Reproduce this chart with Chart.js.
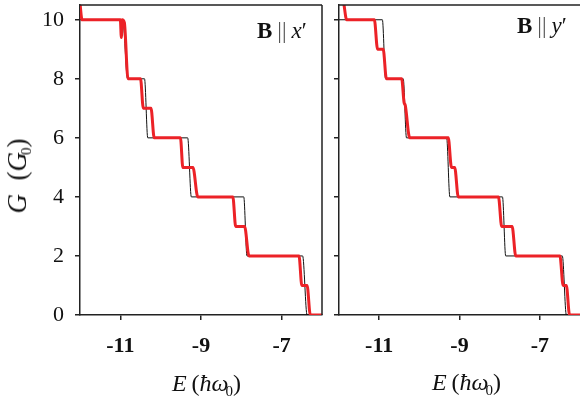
<!DOCTYPE html>
<html>
<head>
<meta charset="utf-8">
<script src="https://cdn.jsdelivr.net/npm/chart.js@4.4.0/dist/chart.umd.min.js"></script>
<style>
  html, body { margin:0; padding:0; background:#fff; width:580px; height:403px; overflow:hidden; position:relative; font-family:"Liberation Serif", "Times New Roman", Times, serif; color:#111; }
  canvas { position:absolute; top:0; }
  #cL { left:0; }
  #cR { left:330px; }
  .lbl { position:absolute; white-space:nowrap; line-height:1; }
  .tag { font-size:23px; }
  .tag .bar { color:#555; margin:0 5px; }
  .ax { font-size:24px; }
  .ax sub { font-size:15px; vertical-align:-5px; margin-left:-3px; }
  #yt { left:19px; top:176px; transform:translate(-50%,-50%) rotate(-90deg); font-size:27px; }
</style>
</head>
<body>
<canvas id="cL" width="330" height="403"></canvas>
<canvas id="cR" width="250" height="403"></canvas>

<div class="lbl tag" style="left:257px; top:19px;"><b>B</b><span class="bar">||</span><i>x</i>′</div>
<div class="lbl tag" style="left:517px; top:14px;"><b>B</b><span class="bar">||</span><i>y</i>′</div>
<div class="lbl ax" style="left:172px; top:371px;"><i>E</i>&thinsp;(<i>ħω</i><sub>0</sub>)</div>
<div class="lbl ax" style="left:432px; top:370px;"><i>E</i>&thinsp;(<i>ħω</i><sub>0</sub>)</div>
<div class="lbl ax" id="yt"><i>G</i>&ensp;(<i>G</i><sub>0</sub>)</div>

<script>
// tick values
const xTicks = [-11, -9, -7];
const yTicks = [0, 2, 4, 6, 8, 10];

// B || x'  (black: thin reference, red: thick)
const leftBlackE = [-12, -10.94, -10.82, -10.40, -10.32, -9.33, -9.24, -7.94, -7.86, -6.48, -6.37, -6.0];
const leftBlackG = [10, 10, 8, 8, 6, 6, 4, 4, 2, 2, 0, 0];
const leftRedE = [-12.0, -11.95, -11.0, -10.975, -10.955, -10.90, -10.81, -10.50, -10.43, -10.24, -10.16, -9.51, -9.45, -9.20, -9.08, -8.21, -8.14, -7.92, -7.81, -6.57, -6.50, -6.37, -6.29, -6.0];
const leftRedG = [10.55, 10, 10, 9.4, 10, 9.9, 8, 8, 7, 7, 6, 6, 5, 5, 4, 4, 3, 3, 2, 2, 1, 1, 0, 0];

// B || y'
const rightBlackE = [-12, -10.92, -10.84, -10.40, -10.32, -9.32, -9.24, -7.93, -7.85, -6.44, -6.34, -6.0];
const rightBlackG = [10, 10, 8, 8, 6, 6, 4, 4, 2, 2, 0, 0];
const rightRedE = [-11.88, -11.81, -11.12, -11.04, -10.90, -10.82, -10.44, -10.38, -10.35, -10.24, -9.28, -9.20, -9.12, -9.03, -8.03, -7.95, -7.69, -7.60, -6.50, -6.42, -6.34, -6.26, -6.0];
const rightRedG = [10.55, 10, 10, 9, 9, 8, 8, 7.2, 7.1, 6, 6, 5, 5, 4, 4, 3, 3, 2, 2, 1, 1, 0, 0];

const RED = '#ec2227', INK = '#222';
const SERIF = '"Liberation Serif", "Times New Roman", Times, serif';

function pts(es, gs){ return es.map((e, i) => ({ x:e, y:gs[i] })); }

const frame = {
  id:'frame',
  afterDraw(c, args, o){
    const { ctx, chartArea:a } = c;
    ctx.save();
    ctx.strokeStyle = INK; ctx.lineWidth = 1.5;
    ctx.beginPath();
    ctx.moveTo(a.left, a.top); ctx.lineTo(a.right, a.top);
    if(o.right){ ctx.moveTo(a.right, a.top); ctx.lineTo(a.right, a.bottom); }
    ctx.stroke();
    ctx.restore();
  }
};

function makeChart(id, red, black, yLabels, yWidth, padRight){
  return new Chart(document.getElementById(id), {
    type:'line',
    data:{ datasets:[
      { data:red, borderColor:RED, borderWidth:3, pointRadius:0, cubicInterpolationMode:'monotone', order:0 },
      { data:black, borderColor:'#111', borderWidth:1, pointRadius:0, cubicInterpolationMode:'monotone', order:1 }
    ]},
    options:{
      responsive:false, animation:false, events:[],
      layout:{ padding:{ top:5, right:padRight, left:0, bottom:0 } },
      plugins:{ legend:{display:false}, tooltip:{enabled:false}, frame:{ right: padRight > 0 } },
      scales:{
        x:{
          type:'linear', min:-12, max:-6,
          afterBuildTicks: s => { s.ticks = xTicks.map(v => ({ value:v })); },
          afterFit: s => { s.height = 88; s.paddingLeft = 0; s.paddingRight = 0; },
          grid:{ drawOnChartArea:false, color:INK, lineWidth:1.5, tickLength:5 },
          border:{ color:INK, width:1.5 },
          ticks:{ color:'#111', autoSkip:false, maxRotation:0, padding:13, font:{ family:SERIF, size:22, weight:'bold' } }
        },
        y:{
          type:'linear', min:0, max:10.5,
          afterBuildTicks: s => { s.ticks = yTicks.map(v => ({ value:v })); },
          afterFit: s => { s.width = yWidth; s.paddingTop = 0; s.paddingBottom = 0; },
          grid:{ drawOnChartArea:false, color:INK, lineWidth:1.5, tickLength:5 },
          border:{ color:INK, width:1.5 },
          ticks:{ color:'#111', padding:11, font:{ family:SERIF, size:22 }, callback: v => yLabels ? String(v) : '' }
        }
      }
    },
    plugins:[frame]
  });
}

makeChart('cL', pts(leftRedE, leftRedG), pts(leftBlackE, leftBlackG), true, 80, 8);
makeChart('cR', pts(rightRedE, rightRedG), pts(rightBlackE, rightBlackG), false, 9, 0);
</script>
</body>
</html>
